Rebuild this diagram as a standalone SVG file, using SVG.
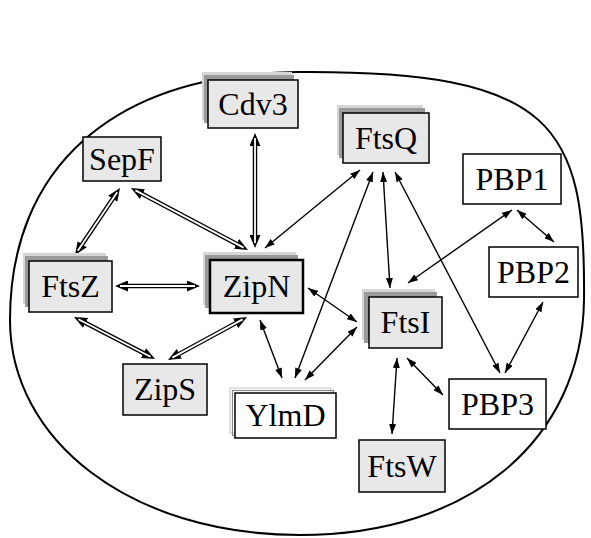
<svg xmlns="http://www.w3.org/2000/svg" width="591" height="538" viewBox="0 0 591 538">
<style>
.box{fill:#e8e8e8;stroke:#000;stroke-width:1.5}
.wbox{fill:#fff;stroke:#000;stroke-width:1.5}
.sh1{fill:#d6d6d6}
.sh2{fill:#9a9a9a}
.o1{fill:none;stroke:#cfcfcf;stroke-width:1.2}
.o2{fill:none;stroke:#8a8a8a;stroke-width:1.2}
.t{font-family:"Liberation Serif","Times New Roman",serif;font-size:32px;text-anchor:middle;fill:#000}
.s{stroke:#000;stroke-width:1.4;fill:none;marker-start:url(#a);marker-end:url(#a)}
.db{stroke:#000;stroke-width:4.5;fill:none;marker-start:url(#d);marker-end:url(#d)}
.dw{stroke:#fff;stroke-width:1.8;fill:none}
</style>
<defs>
<marker id="a" markerUnits="userSpaceOnUse" markerWidth="10" markerHeight="7" refX="10" refY="3.5" orient="auto-start-reverse"><path d="M0,0 L10,3.5 L0,7 z" fill="#000"/></marker>
<marker id="d" markerUnits="userSpaceOnUse" markerWidth="13" markerHeight="11" refX="7" refY="5.5" orient="auto-start-reverse"><path d="M0,0 L13,5.5 L0,11 z" fill="#000"/></marker>
</defs>
<path id="cell" d="M297,72 C555,70 586,125 584,300 C582,440 470,535 300,535 C130,535 10,440 10,320 C10,170 110,74 297,72 Z" fill="none" stroke="#000" stroke-width="2"/>
<g id="connectors">
<line class="db" x1="116.65" y1="192.98" x2="78.35" y2="250.02"/>
<line class="dw" x1="117.21" y1="192.15" x2="77.79" y2="250.85"/>
<line class="db" x1="136.3" y1="190.81" x2="242.7" y2="247.19"/>
<line class="dw" x1="135.42" y1="190.34" x2="243.58" y2="247.66"/>
<line class="db" x1="255" y1="139" x2="255" y2="242"/>
<line class="dw" x1="255" y1="138" x2="255" y2="243"/>
<line class="db" x1="121" y1="286" x2="194" y2="286"/>
<line class="dw" x1="120" y1="286" x2="195" y2="286"/>
<line class="db" x1="79.33" y1="319.76" x2="149.67" y2="356.24"/>
<line class="dw" x1="78.44" y1="319.3" x2="150.56" y2="356.7"/>
<line class="db" x1="173.27" y1="357.13" x2="241.73" y2="319.87"/>
<line class="dw" x1="172.39" y1="357.61" x2="242.61" y2="319.39"/>
<line class="s" x1="265" y1="248" x2="360" y2="170"/>
<line class="s" x1="308" y1="288" x2="357" y2="322"/>
<line class="s" x1="260" y1="320" x2="282" y2="378"/>
<line class="s" x1="373" y1="172" x2="295" y2="378"/>
<line class="s" x1="305" y1="380" x2="357" y2="327"/>
<line class="s" x1="383" y1="172" x2="390" y2="288"/>
<line class="s" x1="395" y1="172" x2="500" y2="373"/>
<line class="s" x1="512" y1="210" x2="408" y2="283"/>
<line class="s" x1="517" y1="210" x2="554" y2="242"/>
<line class="s" x1="543" y1="302" x2="505" y2="373"/>
<line class="s" x1="407" y1="358" x2="443" y2="395"/>
<line class="s" x1="397" y1="358" x2="392" y2="434"/>
</g>
<g id="Cdv3">
<rect class="sh1" x="202" y="72" width="90" height="48"/>
<rect class="sh2" x="204" y="75" width="90" height="48"/>
<rect class="box" x="208" y="80" width="90" height="48"/>
<text class="t" x="253" y="115">Cdv3</text>
</g>
<g id="SepF">
<rect class="box" x="83" y="137" width="78" height="44"/>
<text class="t" x="122" y="170">SepF</text>
</g>
<g id="FtsQ">
<rect class="sh1" x="337" y="105" width="86" height="50"/>
<rect class="sh2" x="339" y="108" width="86" height="50"/>
<rect class="box" x="343" y="113" width="86" height="50"/>
<text class="t" x="386" y="149">FtsQ</text>
</g>
<g id="FtsZ">
<rect class="sh1" x="23" y="253" width="83" height="51"/>
<rect class="sh2" x="25" y="256" width="83" height="51"/>
<rect class="box" x="29" y="261" width="83" height="51"/>
<text class="t" x="70.5" y="297">FtsZ</text>
</g>
<g id="ZipN">
<rect class="sh1" x="203" y="252" width="93" height="53"/>
<rect class="sh2" x="205" y="255" width="93" height="53"/>
<rect class="box" x="210" y="260" width="93" height="53" style="stroke-width:2.5"/>
<text class="t" x="256.5" y="297">ZipN</text>
</g>
<g id="FtsI">
<rect class="sh1" x="362" y="289" width="73" height="51"/>
<rect class="sh2" x="364" y="292" width="73" height="51"/>
<rect class="box" x="369" y="297" width="73" height="51"/>
<text class="t" x="405.5" y="333">FtsI</text>
</g>
<g id="ZipS">
<rect class="box" x="123" y="364" width="84" height="51"/>
<text class="t" x="165" y="400">ZipS</text>
</g>
<g id="YlmD">
<rect class="o1" x="230" y="388" width="101" height="45"/>
<rect class="o2" x="232.5" y="390.5" width="101" height="45"/>
<rect class="wbox" x="235" y="393" width="101" height="45"/>
<text class="t" x="285.5" y="426">YlmD</text>
</g>
<g id="FtsW">
<rect class="box" x="359" y="440" width="86" height="52"/>
<text class="t" x="402" y="477">FtsW</text>
</g>
<g id="PBP1">
<rect class="wbox" x="463" y="154" width="98" height="50"/>
<text class="t" x="512" y="190">PBP1</text>
</g>
<g id="PBP2">
<rect class="wbox" x="489" y="247" width="89" height="50"/>
<text class="t" x="533.5" y="283">PBP2</text>
</g>
<g id="PBP3">
<rect class="wbox" x="449" y="379" width="97" height="50"/>
<text class="t" x="497.5" y="415">PBP3</text>
</g>
</svg>
